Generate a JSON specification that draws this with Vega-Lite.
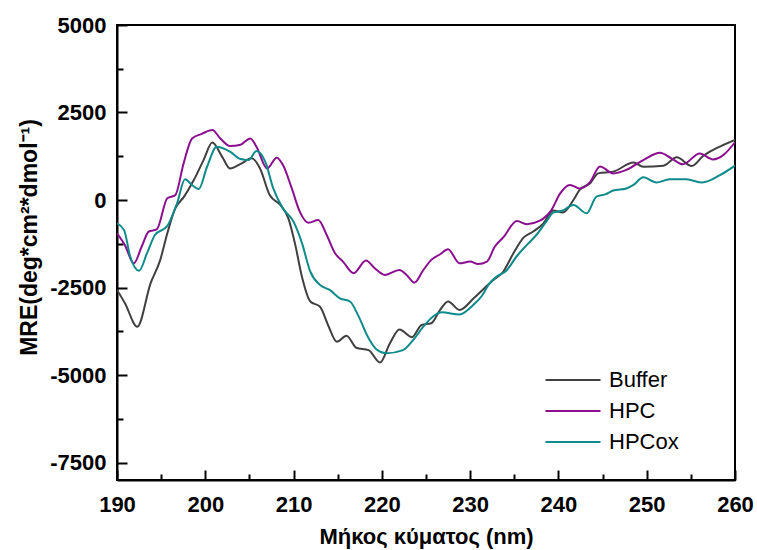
{
  "$schema": "https://vega.github.io/schema/vega-lite/v6.json",
  "width": 618,
  "height": 455,
  "autosize": {"type": "none"},
  "padding": {"left": 117, "top": 25, "right": 22, "bottom": 70},
  "background": "white",
  "config": {
    "view": {"stroke": "black", "strokeWidth": 2},
    "font": "Liberation Sans",
    "axis": {
      "grid": false,
      "domainColor": "black",
      "domainWidth": 2,
      "tickColor": "black",
      "tickWidth": 2,
      "labelFont": "Liberation Sans",
      "labelFontWeight": "bold",
      "labelFontSize": 22,
      "labelColor": "black",
      "titleFont": "Liberation Sans",
      "titleFontWeight": "bold",
      "titleFontSize": 22,
      "titleColor": "black"
    },
    "legend": {
      "labelFont": "Liberation Sans",
      "labelFontSize": 22,
      "labelColor": "black"
    }
  },
  "data": {
    "values": [
      {"nm": 190.0, "mre": -2570, "sample": "Buffer"},
      {"nm": 190.9, "mre": -2950, "sample": "Buffer"},
      {"nm": 192.3, "mre": -3620, "sample": "Buffer"},
      {"nm": 193.8, "mre": -2380, "sample": "Buffer"},
      {"nm": 194.9, "mre": -1710, "sample": "Buffer"},
      {"nm": 195.7, "mre": -950, "sample": "Buffer"},
      {"nm": 196.6, "mre": -240, "sample": "Buffer"},
      {"nm": 197.6, "mre": 95, "sample": "Buffer"},
      {"nm": 198.7, "mre": 570, "sample": "Buffer"},
      {"nm": 199.8, "mre": 1140, "sample": "Buffer"},
      {"nm": 200.8, "mre": 1640, "sample": "Buffer"},
      {"nm": 201.9, "mre": 1240, "sample": "Buffer"},
      {"nm": 202.8, "mre": 900, "sample": "Buffer"},
      {"nm": 204.0, "mre": 1030, "sample": "Buffer"},
      {"nm": 205.25, "mre": 1190, "sample": "Buffer"},
      {"nm": 206.2, "mre": 900, "sample": "Buffer"},
      {"nm": 207.3, "mre": 140, "sample": "Buffer"},
      {"nm": 208.5, "mre": -140, "sample": "Buffer"},
      {"nm": 209.4, "mre": -520, "sample": "Buffer"},
      {"nm": 210.2, "mre": -1290, "sample": "Buffer"},
      {"nm": 210.9, "mre": -2140, "sample": "Buffer"},
      {"nm": 211.9, "mre": -2900, "sample": "Buffer"},
      {"nm": 213.0, "mre": -3050, "sample": "Buffer"},
      {"nm": 213.9, "mre": -3570, "sample": "Buffer"},
      {"nm": 214.9, "mre": -4050, "sample": "Buffer"},
      {"nm": 216.0, "mre": -3880, "sample": "Buffer"},
      {"nm": 217.1, "mre": -4220, "sample": "Buffer"},
      {"nm": 218.5, "mre": -4290, "sample": "Buffer"},
      {"nm": 219.8, "mre": -4640, "sample": "Buffer"},
      {"nm": 220.9, "mre": -4100, "sample": "Buffer"},
      {"nm": 222.0, "mre": -3700, "sample": "Buffer"},
      {"nm": 223.4, "mre": -3920, "sample": "Buffer"},
      {"nm": 224.5, "mre": -3570, "sample": "Buffer"},
      {"nm": 225.6, "mre": -3520, "sample": "Buffer"},
      {"nm": 226.6, "mre": -3140, "sample": "Buffer"},
      {"nm": 227.5, "mre": -2900, "sample": "Buffer"},
      {"nm": 228.8, "mre": -3140, "sample": "Buffer"},
      {"nm": 230.4, "mre": -2810, "sample": "Buffer"},
      {"nm": 231.7, "mre": -2500, "sample": "Buffer"},
      {"nm": 232.6, "mre": -2290, "sample": "Buffer"},
      {"nm": 233.75, "mre": -2050, "sample": "Buffer"},
      {"nm": 234.9, "mre": -1520, "sample": "Buffer"},
      {"nm": 236.0, "mre": -1090, "sample": "Buffer"},
      {"nm": 237.15, "mre": -900, "sample": "Buffer"},
      {"nm": 238.3, "mre": -670, "sample": "Buffer"},
      {"nm": 239.4, "mre": -300, "sample": "Buffer"},
      {"nm": 240.5, "mre": -360, "sample": "Buffer"},
      {"nm": 241.7, "mre": 0, "sample": "Buffer"},
      {"nm": 242.4, "mre": 290, "sample": "Buffer"},
      {"nm": 243.6, "mre": 480, "sample": "Buffer"},
      {"nm": 244.5, "mre": 760, "sample": "Buffer"},
      {"nm": 246.2, "mre": 810, "sample": "Buffer"},
      {"nm": 248.5, "mre": 1070, "sample": "Buffer"},
      {"nm": 249.6, "mre": 950, "sample": "Buffer"},
      {"nm": 251.9, "mre": 980, "sample": "Buffer"},
      {"nm": 253.4, "mre": 1220, "sample": "Buffer"},
      {"nm": 255.1, "mre": 970, "sample": "Buffer"},
      {"nm": 256.4, "mre": 1260, "sample": "Buffer"},
      {"nm": 257.9, "mre": 1480, "sample": "Buffer"},
      {"nm": 260.0, "mre": 1720, "sample": "Buffer"},

      {"nm": 190.0, "mre": -950, "sample": "HPC"},
      {"nm": 190.9, "mre": -1290, "sample": "HPC"},
      {"nm": 191.9, "mre": -1810, "sample": "HPC"},
      {"nm": 192.8, "mre": -1330, "sample": "HPC"},
      {"nm": 193.6, "mre": -900, "sample": "HPC"},
      {"nm": 194.5, "mre": -840, "sample": "HPC"},
      {"nm": 195.7, "mre": 50, "sample": "HPC"},
      {"nm": 196.6, "mre": 140, "sample": "HPC"},
      {"nm": 197.55, "mre": 1050, "sample": "HPC"},
      {"nm": 198.5, "mre": 1760, "sample": "HPC"},
      {"nm": 199.6, "mre": 1890, "sample": "HPC"},
      {"nm": 200.8, "mre": 2000, "sample": "HPC"},
      {"nm": 201.7, "mre": 1760, "sample": "HPC"},
      {"nm": 202.8, "mre": 1540, "sample": "HPC"},
      {"nm": 204.0, "mre": 1580, "sample": "HPC"},
      {"nm": 205.1, "mre": 1760, "sample": "HPC"},
      {"nm": 205.8, "mre": 1520, "sample": "HPC"},
      {"nm": 207.0, "mre": 900, "sample": "HPC"},
      {"nm": 208.1, "mre": 1210, "sample": "HPC"},
      {"nm": 208.8, "mre": 1000, "sample": "HPC"},
      {"nm": 209.8, "mre": 330, "sample": "HPC"},
      {"nm": 210.7, "mre": -330, "sample": "HPC"},
      {"nm": 211.7, "mre": -650, "sample": "HPC"},
      {"nm": 212.8, "mre": -570, "sample": "HPC"},
      {"nm": 213.75, "mre": -1000, "sample": "HPC"},
      {"nm": 214.7, "mre": -1520, "sample": "HPC"},
      {"nm": 215.6, "mre": -1760, "sample": "HPC"},
      {"nm": 216.8, "mre": -2090, "sample": "HPC"},
      {"nm": 218.2, "mre": -1730, "sample": "HPC"},
      {"nm": 219.2, "mre": -1950, "sample": "HPC"},
      {"nm": 220.35, "mre": -2140, "sample": "HPC"},
      {"nm": 222.0, "mre": -2000, "sample": "HPC"},
      {"nm": 222.8, "mre": -2140, "sample": "HPC"},
      {"nm": 223.7, "mre": -2360, "sample": "HPC"},
      {"nm": 224.7, "mre": -2000, "sample": "HPC"},
      {"nm": 225.6, "mre": -1710, "sample": "HPC"},
      {"nm": 226.6, "mre": -1550, "sample": "HPC"},
      {"nm": 227.5, "mre": -1410, "sample": "HPC"},
      {"nm": 228.8, "mre": -1810, "sample": "HPC"},
      {"nm": 230.0, "mre": -1760, "sample": "HPC"},
      {"nm": 230.9, "mre": -1830, "sample": "HPC"},
      {"nm": 231.9, "mre": -1760, "sample": "HPC"},
      {"nm": 232.8, "mre": -1330, "sample": "HPC"},
      {"nm": 233.75, "mre": -1070, "sample": "HPC"},
      {"nm": 235.3, "mre": -600, "sample": "HPC"},
      {"nm": 236.4, "mre": -690, "sample": "HPC"},
      {"nm": 237.9, "mre": -590, "sample": "HPC"},
      {"nm": 239.2, "mre": -290, "sample": "HPC"},
      {"nm": 240.2, "mre": 190, "sample": "HPC"},
      {"nm": 241.3, "mre": 430, "sample": "HPC"},
      {"nm": 242.4, "mre": 330, "sample": "HPC"},
      {"nm": 243.6, "mre": 520, "sample": "HPC"},
      {"nm": 244.7, "mre": 960, "sample": "HPC"},
      {"nm": 246.2, "mre": 760, "sample": "HPC"},
      {"nm": 247.7, "mre": 860, "sample": "HPC"},
      {"nm": 249.6, "mre": 1140, "sample": "HPC"},
      {"nm": 251.5, "mre": 1350, "sample": "HPC"},
      {"nm": 252.8, "mre": 1190, "sample": "HPC"},
      {"nm": 254.1, "mre": 1020, "sample": "HPC"},
      {"nm": 256.0, "mre": 1330, "sample": "HPC"},
      {"nm": 257.5, "mre": 1160, "sample": "HPC"},
      {"nm": 258.7, "mre": 1290, "sample": "HPC"},
      {"nm": 260.0, "mre": 1650, "sample": "HPC"},

      {"nm": 190.0, "mre": -670, "sample": "HPCox"},
      {"nm": 190.8, "mre": -860, "sample": "HPCox"},
      {"nm": 191.5, "mre": -1620, "sample": "HPCox"},
      {"nm": 192.5, "mre": -2020, "sample": "HPCox"},
      {"nm": 193.4, "mre": -1520, "sample": "HPCox"},
      {"nm": 194.3, "mre": -1000, "sample": "HPCox"},
      {"nm": 195.7, "mre": -740, "sample": "HPCox"},
      {"nm": 196.8, "mre": -95, "sample": "HPCox"},
      {"nm": 197.7, "mre": 590, "sample": "HPCox"},
      {"nm": 198.5, "mre": 430, "sample": "HPCox"},
      {"nm": 199.25, "mre": 310, "sample": "HPCox"},
      {"nm": 200.2, "mre": 950, "sample": "HPCox"},
      {"nm": 201.3, "mre": 1520, "sample": "HPCox"},
      {"nm": 202.8, "mre": 1380, "sample": "HPCox"},
      {"nm": 204.0, "mre": 1170, "sample": "HPCox"},
      {"nm": 204.9, "mre": 1140, "sample": "HPCox"},
      {"nm": 205.8, "mre": 1400, "sample": "HPCox"},
      {"nm": 206.8, "mre": 1090, "sample": "HPCox"},
      {"nm": 207.7, "mre": 330, "sample": "HPCox"},
      {"nm": 208.8, "mre": -240, "sample": "HPCox"},
      {"nm": 210.0, "mre": -620, "sample": "HPCox"},
      {"nm": 210.9, "mre": -1190, "sample": "HPCox"},
      {"nm": 211.9, "mre": -2050, "sample": "HPCox"},
      {"nm": 213.0, "mre": -2430, "sample": "HPCox"},
      {"nm": 214.1, "mre": -2570, "sample": "HPCox"},
      {"nm": 215.25, "mre": -2810, "sample": "HPCox"},
      {"nm": 216.4, "mre": -2900, "sample": "HPCox"},
      {"nm": 217.3, "mre": -3290, "sample": "HPCox"},
      {"nm": 218.5, "mre": -3950, "sample": "HPCox"},
      {"nm": 219.4, "mre": -4270, "sample": "HPCox"},
      {"nm": 220.5, "mre": -4380, "sample": "HPCox"},
      {"nm": 222.4, "mre": -4290, "sample": "HPCox"},
      {"nm": 223.55, "mre": -4000, "sample": "HPCox"},
      {"nm": 224.7, "mre": -3620, "sample": "HPCox"},
      {"nm": 225.8, "mre": -3330, "sample": "HPCox"},
      {"nm": 226.8, "mre": -3210, "sample": "HPCox"},
      {"nm": 228.8, "mre": -3270, "sample": "HPCox"},
      {"nm": 230.35, "mre": -3000, "sample": "HPCox"},
      {"nm": 231.3, "mre": -2750, "sample": "HPCox"},
      {"nm": 232.2, "mre": -2380, "sample": "HPCox"},
      {"nm": 233.0, "mre": -2190, "sample": "HPCox"},
      {"nm": 234.1, "mre": -2020, "sample": "HPCox"},
      {"nm": 235.3, "mre": -1600, "sample": "HPCox"},
      {"nm": 236.4, "mre": -1290, "sample": "HPCox"},
      {"nm": 237.5, "mre": -1000, "sample": "HPCox"},
      {"nm": 238.7, "mre": -590, "sample": "HPCox"},
      {"nm": 239.4, "mre": -360, "sample": "HPCox"},
      {"nm": 240.5, "mre": -300, "sample": "HPCox"},
      {"nm": 241.7, "mre": -140, "sample": "HPCox"},
      {"nm": 243.2, "mre": -380, "sample": "HPCox"},
      {"nm": 244.3, "mre": 95, "sample": "HPCox"},
      {"nm": 245.3, "mre": 160, "sample": "HPCox"},
      {"nm": 246.2, "mre": 270, "sample": "HPCox"},
      {"nm": 247.7, "mre": 330, "sample": "HPCox"},
      {"nm": 248.5, "mre": 430, "sample": "HPCox"},
      {"nm": 249.6, "mre": 650, "sample": "HPCox"},
      {"nm": 251.1, "mre": 500, "sample": "HPCox"},
      {"nm": 252.6, "mre": 590, "sample": "HPCox"},
      {"nm": 254.5, "mre": 590, "sample": "HPCox"},
      {"nm": 256.3, "mre": 500, "sample": "HPCox"},
      {"nm": 258.3, "mre": 710, "sample": "HPCox"},
      {"nm": 260.0, "mre": 980, "sample": "HPCox"}
    ]
  },
  "resolve": {"axis": {"x": "independent", "y": "independent"}},
  "layer": [
    {
      "mark": {"type": "line", "interpolate": "monotone", "strokeWidth": 2, "clip": true},
      "encoding": {
        "x": {
          "field": "nm",
          "type": "quantitative",
          "scale": {"domain": [190, 260], "nice": false, "zero": false},
          "axis": {
            "orient": "bottom",
            "title": "Μήκος κύματος (nm)",
            "values": [190, 200, 210, 220, 230, 240, 250, 260],
            "tickSize": -10,
            "labelPadding": 24,
            "titlePadding": 11,
            "labelFlush": false,
            "labelOverlap": false
          }
        },
        "y": {
          "field": "mre",
          "type": "quantitative",
          "scale": {"domain": [-8000, 5000], "nice": false, "zero": false},
          "axis": {
            "orient": "left",
            "title": "MRE(deg*cm²*dmol⁻¹)",
            "titleFontSize": 23,
            "titleY": 212,
            "values": [-7500, -5000, -2500, 0, 2500, 5000],
            "labelExpr": "'' + datum.value",
            "tickSize": -10,
            "labelPadding": 21,
            "titlePadding": 8,
            "labelFlush": false,
            "labelOverlap": false
          }
        },
        "color": {
          "field": "sample",
          "type": "nominal",
          "scale": {"domain": ["Buffer", "HPC", "HPCox"], "range": ["#404040", "#8a0f8f", "#0f8b8b"]},
          "legend": {
            "title": null,
            "orient": "none",
            "legendX": 444,
            "legendY": 343,
            "symbolType": "M-2.5,0L2.5,0",
            "symbolSize": 484,
            "symbolStrokeWidth": 2,
            "symbolFillColor": "transparent",
            "rowPadding": 8,
            "labelOffset": 24
          }
        }
      }
    },
    {
      "mark": {"type": "line", "interpolate": "monotone", "strokeOpacity": 0, "clip": true},
      "encoding": {
        "detail": {"field": "sample"},
        "x": {
          "field": "nm",
          "type": "quantitative",
          "axis": {
            "orient": "bottom",
            "title": null,
            "values": [195, 205, 215, 225, 235, 245, 255],
            "labels": false,
            "domain": false,
            "tickSize": -6
          }
        },
        "y": {
          "field": "mre",
          "type": "quantitative",
          "axis": {
            "orient": "left",
            "title": null,
            "values": [-6250, -3750, -1250, 1250, 3750],
            "labels": false,
            "domain": false,
            "tickSize": -6
          }
        }
      }
    }
  ]
}
